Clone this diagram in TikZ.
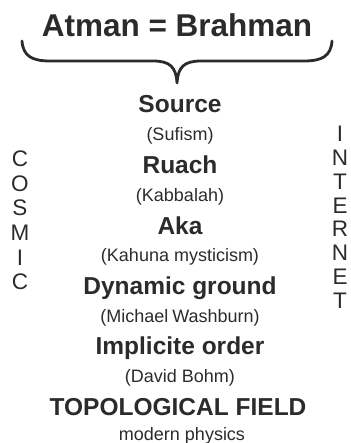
\documentclass[tikz,border=0pt]{standalone}
\usepackage{fontspec}
\setmainfont{Liberation Sans}
\definecolor{ink}{HTML}{2B2B2B}
\tikzset{
  title/.style={font=\fontsize{31.5}{34}\selectfont\bfseries, text=ink, inner sep=0pt, anchor=base},
  term/.style={font=\fontsize{24.5}{27}\selectfont\bfseries, text=ink, inner sep=0pt, anchor=base},
  origin/.style={font=\fontsize{18}{20}\selectfont, text=ink, inner sep=0pt, anchor=base},
  sideletter/.style={font=\fontsize{22.5}{24}\selectfont, text=ink, inner sep=0pt, anchor=center},
  bracestroke/.style={draw=ink, line width=2.8pt, line cap=round, line join=round}
}
\begin{document}
\begin{tikzpicture}[x=1pt, y=-1pt]
  \useasboundingbox (0,0) rectangle (350,443);

  % heading and the brace under it
  \node[title] (atman) at (177,37) {Atman = Brahman};
  \coordinate (braceL) at (22,41);
  \coordinate (braceR) at (332,41);
  \coordinate (braceTip) at (177,83);
  \path[bracestroke] (braceL) .. controls (23,56) and (32,61) .. (50,61)
    -- (153,61) .. controls (170,61) and (176,67) .. (braceTip)
    .. controls (178,67) and (184,61) .. (201,61)
    -- (304,61) .. controls (322,61) and (331,56) .. (braceR);

  % central column: name of the field and its tradition
  \node[term]   (source)   at (180,113)   {Source};
  \node[origin] (sufism)   at (180,140.5) {(Sufism)};
  \node[term]   (ruach)    at (180,173.5) {Ruach};
  \node[origin] (kabbalah) at (180,201)   {(Kabbalah)};
  \node[term]   (aka)      at (180,234)   {Aka};
  \node[origin] (kahuna)   at (180,261.5) {(Kahuna mysticism)};
  \node[term]   (dynamic)  at (180,294.3) {Dynamic ground};
  \node[origin] (washburn) at (180,322)   {(Michael\kern-1pt\ Washburn)};
  \node[term]   (implicit) at (180,354.7) {Implicite order};
  \node[origin] (bohm)     at (180,382.3) {(David Bohm)};
  \node[term]   (topo)     at (178,415.2) {TOPOLOGICAL FIELD};
  \node[origin] (physics)  at (182,440.5) {modern physics};

  % vertical words on both sides
  \foreach \ch [count=\i from 0] in {C,O,S,M,I,C}
    \node[sideletter] (cosmic\i) at (20,159+24.6*\i) {\ch};
  \foreach \ch [count=\i from 0] in {I,N,T,E,R,N,E,T}
    \node[sideletter] (internet\i) at (340,134+23.8*\i) {\ch};
\end{tikzpicture}
\end{document}
